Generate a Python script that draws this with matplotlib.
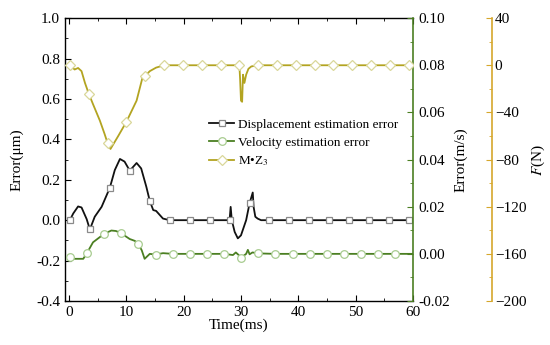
import numpy as np
import matplotlib
matplotlib.use('Agg')
import matplotlib.pyplot as plt
from matplotlib.ticker import MultipleLocator, FormatStrFormatter

plt.rcParams['font.family'] = ['Liberation Serif', 'DejaVu Serif']
plt.rcParams['mathtext.fontset'] = 'stix'

# displacement estimation error (um), left axis
t_disp = [0.17, 0.75, 1.6, 2.2, 3.1, 3.65, 4.5, 5.7, 7.13, 8.0, 8.9, 9.7, 10.61, 11.8,
          12.6, 13.5, 14.09, 14.7, 15.2, 16.4, 17.57, 21.05, 24.53, 28.01, 28.2, 28.4,
          28.9, 29.45, 30.0, 30.9, 31.49, 32.05, 32.2, 32.5, 32.9, 33.5, 34.97, 38.45,
          41.93, 45.41, 48.89, 52.37, 55.85, 59.33, 60.0]
e_disp = [0.0, 0.033, 0.068, 0.063, 0.005, -0.046, 0.017, 0.066, 0.16, 0.248, 0.303,
          0.29, 0.245, 0.283, 0.256, 0.165, 0.096, 0.05, 0.046, 0.008, 0.0, 0.0, 0.0,
          0.0, 0.066, 0.0, -0.058, -0.09, -0.075, 0.0, 0.083, 0.137, 0.066, 0.017, 0.008,
          0.0, 0.0, 0.0, 0.0, 0.0, 0.0, 0.0, 0.0, 0.0, 0.0]
mk_disp = [0.17, 3.65, 7.13, 10.61, 14.09, 17.57, 21.05, 24.53, 28.01, 31.49, 34.97,
           38.45, 41.93, 45.41, 48.89, 52.37, 55.85, 59.33]

# velocity estimation error (m/s), right axis
t_vel = [0.17, 1.05, 2.5, 3.16, 4.2, 6.14, 7.4, 8.2, 9.13, 10.6, 11.5, 12.11, 12.7,
         13.2, 14.1, 15.1, 16.4, 18.09, 21.07, 24.06, 27.04, 28.6, 29.1, 29.6, 30.03,
         30.9, 31.2, 31.5, 32.0, 33.02, 36.0, 38.99, 41.97, 44.96, 47.95, 50.93, 53.92,
         56.9, 60.0]
e_vel = [-0.0014, -0.0021, -0.0021, 0.0004, 0.0049, 0.0085, 0.0099, 0.0097, 0.0087,
         0.0063, 0.0055, 0.0042, 0.0015, -0.0021, 0.0, -0.0003, 0.0003, 0.0, 0.0, 0.0,
         0.0, -0.0005, 0.0006, -0.0005, -0.0016, 0.0, 0.0017, -0.0002, 0.0006, 0.0002,
         0.0, 0.0, 0.0, 0.0, 0.0, 0.0, 0.0, 0.0, 0.0]
mk_vel = [0.17, 3.16, 6.14, 9.13, 12.11, 15.1, 18.09, 21.07, 24.06, 27.04, 30.03,
          33.02, 36.0, 38.99, 41.97, 44.96, 47.95, 50.93, 53.92, 56.9]

# M*Z3 (N), third axis
t_mz = [0.17, 1.0, 1.6, 2.2, 2.8, 3.45, 4.2, 5.4, 6.2, 6.74, 7.25, 8.6, 10.02, 11.8,
        12.8, 13.3, 14.1, 15.2, 16.59, 19.87, 23.15, 26.43, 29.72, 29.85, 30.0, 30.2,
        30.35, 30.6, 30.9, 31.3, 31.8, 33.0, 36.28, 39.57, 42.85, 46.13, 49.42, 52.7,
        55.98, 59.27, 60.0]
f_mz = [0, -3.6, -2.3, -5, -15, -24, -33, -47, -58, -66, -71, -60, -48, -30, -11, -9,
        -5, -2, 0, 0, 0, 0, 0, -12, -30, -31, -8, -15, -8, -3, -1, 0, 0, 0, 0, 0, 0, 0,
        0, 0, 0]
mk_mz = [0.17, 3.45, 6.74, 10.02, 13.3, 16.59, 19.87, 23.15, 26.43, 29.72, 33.0, 36.28,
         39.57, 42.85, 46.13, 49.42, 52.7, 55.98, 59.27]

labels = ['Displacement estimation error', 'Velocity estimation error', 'M•Z$_3$']

c_green = '#4b7f22'
c_gold = '#d6a72c'
c_mz = '#b3a421'


def marks(t, mk):
    return list(np.nonzero(np.isin(np.round(t, 2), np.round(mk, 2)))[0])


fig = plt.figure(figsize=(5.5, 3.45), dpi=100)
ax = fig.add_axes([0.118, 0.1275, 0.633, 0.82])
ax2 = ax.twinx()
ax3 = ax.twinx()
ax3.spines['right'].set_position(('axes', 1.227))

l1, = ax.plot(t_disp, e_disp, color='#111111', lw=1.3, marker='s', ms=4.5,
              mfc='white', mec='#8a8a8a', mew=0.9, markevery=marks(t_disp, mk_disp))
l2, = ax2.plot(t_vel, e_vel, color=c_green, lw=1.3, marker='o', ms=5.5,
               mfc='white', mec='#a8cc90', mew=0.9, markevery=marks(t_vel, mk_vel))
l3, = ax3.plot(t_mz, f_mz, color=c_mz, lw=1.3, marker='D', ms=5,
               mfc='white', mec='#d9d79a', mew=0.9, markevery=marks(t_mz, mk_mz))

ax.set_xlim(-0.7, 60)
ax.set_ylim(-0.4, 1.0)
ax2.set_ylim(-0.02, 0.10)
ax3.set_ylim(-200, 40)

ax.xaxis.set_major_locator(MultipleLocator(10))
ax.xaxis.set_minor_locator(MultipleLocator(5))
ax.yaxis.set_major_locator(MultipleLocator(0.2))
ax.yaxis.set_minor_locator(MultipleLocator(0.1))
ax.yaxis.set_major_formatter(FormatStrFormatter('%.1f'))
ax2.yaxis.set_major_locator(MultipleLocator(0.02))
ax2.yaxis.set_minor_locator(MultipleLocator(0.01))
ax2.yaxis.set_major_formatter(FormatStrFormatter('%.2f'))
ax3.yaxis.set_major_locator(MultipleLocator(40))
ax3.yaxis.set_minor_locator(MultipleLocator(20))

ax.spines['right'].set_visible(False)
for a in (ax2, ax3):
    for s in ('left', 'top', 'bottom'):
        a.spines[s].set_visible(False)
ax2.spines['right'].set_color(c_green)
ax2.spines['right'].set_linewidth(1.2)
ax3.spines['right'].set_color(c_gold)
ax3.spines['right'].set_linewidth(1.2)
for s in ('left', 'top', 'bottom'):
    ax.spines[s].set_linewidth(1.0)

ax.tick_params(which='both', direction='in', top=True, labelsize=11)
ax.tick_params(which='major', length=4)
ax.tick_params(which='minor', length=2.5)
ax2.tick_params(which='both', direction='in', colors=c_green, labelcolor='black', labelsize=11)
ax2.tick_params(which='major', length=4)
ax2.tick_params(which='minor', length=2.5)
ax3.tick_params(which='both', direction='in', colors=c_gold, labelcolor='black', labelsize=11)
ax3.tick_params(which='major', length=4, pad=2)
ax3.tick_params(which='minor', length=2.5)

ax.set_xlabel('Time(ms)', fontsize=11, labelpad=0)
ax.set_ylabel('Error(μm)', fontsize=11)
ax.yaxis.set_label_coords(-0.12, 0.5)
ax2.set_ylabel('Error(m/s)', fontsize=11, labelpad=3)
ax3.set_ylabel('$F$(N)', fontsize=11)
ax3.yaxis.set_label_coords(1.335, 0.5)

ax3.legend([l1, l2, l3], labels, loc='upper left', bbox_to_anchor=(0.368, 0.675),
           bbox_transform=fig.transFigure, frameon=False, fontsize=9.5,
           handlelength=1.9, handletextpad=0.3, labelspacing=0.42, borderpad=0)

fig.savefig('out.png', dpi=100)
